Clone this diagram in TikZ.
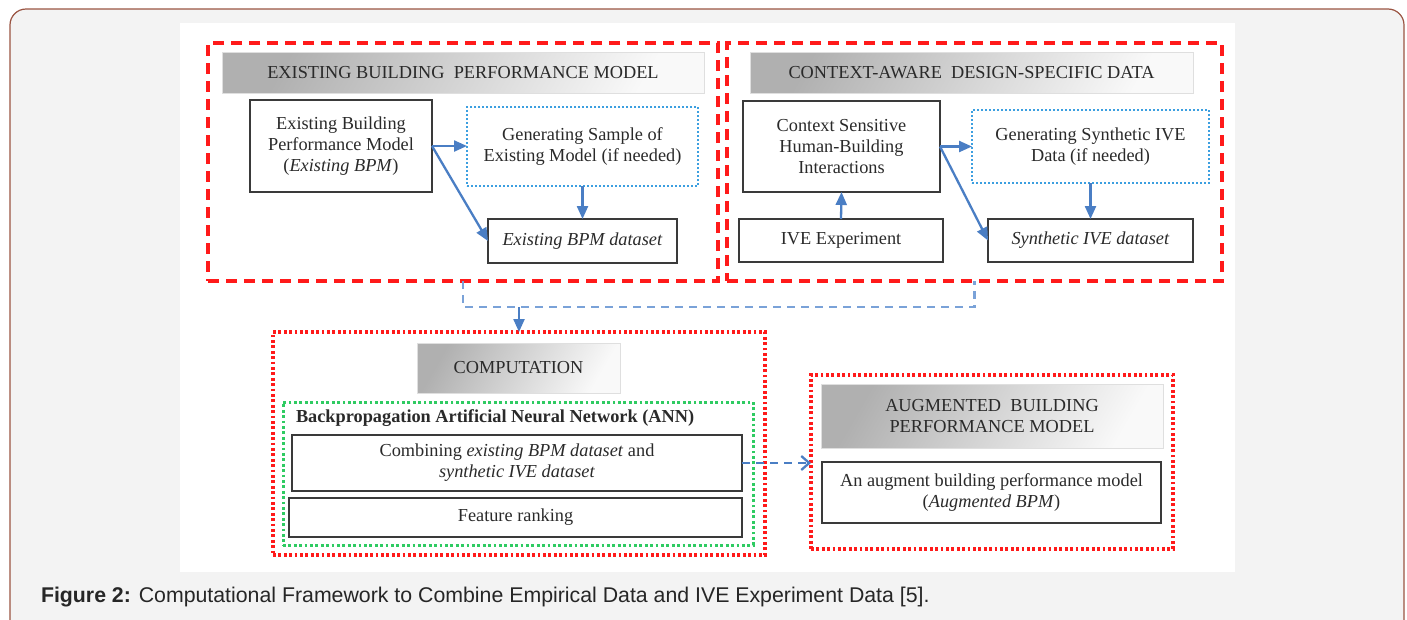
\documentclass[tikz,border=0pt]{standalone}
\usepackage{fontspec}
\setmainfont{Liberation Serif}
\newfontfamily\capfont{Liberation Sans}
\usetikzlibrary{arrows.meta,shadows}
\definecolor{bgc}{HTML}{F3F3F3}
\definecolor{brownc}{HTML}{9A5442}
\definecolor{redc}{HTML}{FF1A1A}
\definecolor{greenc}{HTML}{2FCB62}
\definecolor{bluedot}{HTML}{3C9FE0}
\definecolor{arrc}{HTML}{4A7EC4}
\definecolor{dashc}{HTML}{7AA2D8}
\definecolor{boxc}{HTML}{3A3A3A}
\definecolor{txtc}{HTML}{2A2A2A}
\begin{document}
\begin{tikzpicture}[x=1pt,y=-1pt,
  every node/.style={inner sep=0pt, outer sep=0pt, text=txtc},
  sz/.style 2 args={minimum width=#1, minimum height=#2},
  dfont/.style={font=\fontsize{18.3}{21}\selectfont},
  grpdash/.style={draw=redc, line width=3.5pt, dash pattern=on 11pt off 7pt},
  grpdot/.style={draw=redc, line width=3.2pt, dash pattern=on 2.8pt off 2.6pt},
  anndot/.style={draw=greenc, line width=3pt, dash pattern=on 2.8pt off 2.6pt},
  hdr/.style={top color=gray!62, bottom color=gray!5, shading angle=60, draw=gray!25, line width=0.8pt, align=center, dfont},
  box/.style={draw=boxc, line width=1.9pt, fill=white, align=center, dfont,
    drop shadow={shadow xshift=1.3pt, shadow yshift=-1.3pt, opacity=0.35, fill=gray}},
  bdot/.style={draw=bluedot, line width=1.7pt, dash pattern=on 2pt off 2pt, fill=white, align=center, dfont},
  arr/.style={draw=arrc, line width=2.3pt, -{Triangle[length=13pt,width=11pt]}},
  dconn/.style={draw=dashc, line width=2.3pt, dash pattern=on 8pt off 6pt}
]
\useasboundingbox (0,0) rectangle (1407,619);
\clip (0,0) rectangle (1407,619);
\draw[draw=brownc, line width=1.2pt, fill=bgc, rounded corners=16pt] (10,9) rectangle (1404,660);
\fill[white] (180,23) rectangle (1235,572);

% groups
\node[grpdash, sz={510pt}{238pt}] (leftgrp) at (463,162) {};
\node[grpdash, sz={495pt}{238pt}] (rightgrp) at (974.5,162) {};
\node[grpdot, sz={492pt}{223pt}] (compgrp) at (519,443.5) {};
\node[anndot, sz={470pt}{143pt}] (anngrp) at (518,473.5) {};
\node[grpdot, sz={362pt}{174pt}] (auggrp) at (992,462) {};

% headers
\node[hdr, sz={482pt}{41pt}] (hdrL) at (463,72.5) {EXISTING BUILDING\ \ PERFORMANCE MODEL};
\node[hdr, sz={443pt}{41pt}] (hdrR) at (971.5,72.5) {CONTEXT-AWARE\ \ DESIGN-SPECIFIC DATA};
\node[hdr, sz={203pt}{50pt}] (hdrC) at (518.5,368) {COMPUTATION};
\node[hdr, sz={342pt}{64pt}] (hdrA) at (992,416) {AUGMENTED\ \ BUILDING\\PERFORMANCE MODEL};

% left panel
\node[box, sz={182pt}{92pt}] (ebpm) at (341,146) {Existing Building\\Performance Model\\(\textit{Existing BPM})};
\node[bdot, sz={231pt}{79pt}] (gen1) at (582.5,146.5) {Generating Sample of\\Existing Model (if needed)};
\node[box, sz={189pt}{44pt}] (ebpmds) at (582.5,241) {\textit{Existing BPM dataset}};

% right panel
\node[box, sz={197pt}{91pt}] (cshbi) at (841.5,146.5) {Context Sensitive\\Human-Building\\Interactions};
\node[bdot, sz={237pt}{73pt}] (gen2) at (1090.5,146.5) {Generating Synthetic IVE\\Data (if needed)};
\node[box, sz={204pt}{43pt}] (ive) at (841,240.5) {IVE Experiment};
\node[box, sz={205pt}{43pt}] (syn) at (1090.5,240.5) {\textit{Synthetic IVE dataset}};

% computation
\node[anchor=west, dfont] (annlbl) at (296,418) {\textbf{Backpropagation Artificial Neural Network (ANN)}};
\node[box, sz={450pt}{56pt}] (comb) at (517,463) {Combining \textit{existing BPM dataset} and\\\textit{synthetic IVE dataset}};
\node[box, sz={453pt}{39pt}] (feat) at (515.5,517.5) {Feature ranking};

% augmented
\node[box, sz={339pt}{61pt}] (augm) at (991.5,492.5) {An augment building performance model\\(\textit{Augmented BPM})};

% arrows
\draw[arr] (ebpm.east) -- (gen1.west |- ebpm.east);
\draw[arr] (ebpm.east) -- (ebpmds.west);
\draw[arr] (gen1.south) -- (ebpmds.north);
\draw[arr] (cshbi.east) -- (gen2.west |- cshbi.east);
\draw[arr] (cshbi.east) -- (syn.west);
\draw[arr] (gen2.south) -- (syn.north);
\draw[arr] (ive.north) -- (cshbi.south);

\coordinate (j) at (519,307);
\draw[dconn] (leftgrp.south) -- (leftgrp.south |- j) -- (rightgrp.south |- j) -- (rightgrp.south);
\draw[arr] (j) -- (compgrp.north);
\draw[draw=arrc, line width=2.3pt, dash pattern=on 8pt off 6pt, -{Straight Barb[length=8pt,width=14pt]}] (comb.east) -- (auggrp.west |- comb.east);

% caption
\node[anchor=west, font=\capfont\fontsize{21.3}{25}\selectfont, text=black!85] (cap) at (41,597.5) {\textbf{Figure 2:} Computational Framework to Combine Empirical Data and IVE Experiment Data [5].};
\end{tikzpicture}
\end{document}
